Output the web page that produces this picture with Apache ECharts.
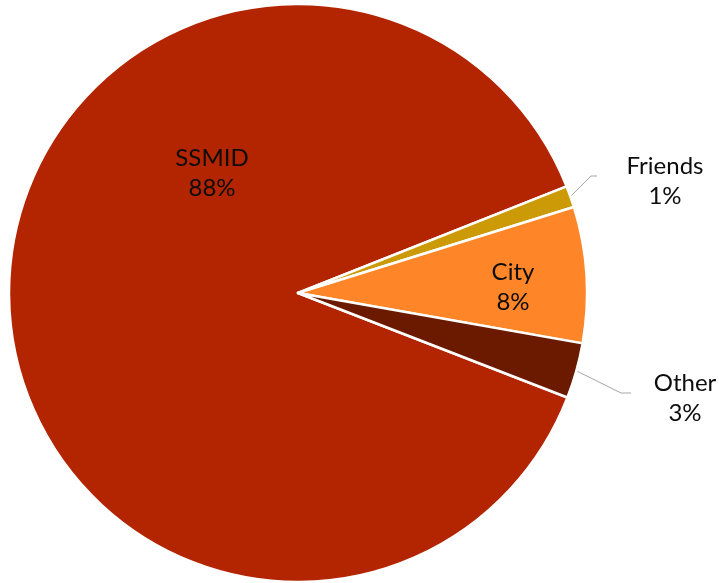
<!DOCTYPE html>
<html>
<head>
<meta charset="utf-8">
<script src="https://cdn.jsdelivr.net/npm/echarts@6/dist/echarts.min.js"></script>
<style>
  html, body { margin: 0; padding: 0; background: #fff; }
  #chart { width: 719px; height: 583px; }
</style>
</head>
<body>
<div id="chart"></div>
<script>
// slice data, clockwise from the lower edge of the big slice
const categories = ['SSMID', 'Friends', 'City', 'Other']
const shares = [88.1, 1.2, 7.6, 3.1]
const sliceColors = ['#B32400', '#CC9A06', '#FF8628', '#6B1A00']

const chart = echarts.init(document.getElementById('chart'))

const total = shares.reduce((a, b) => a + b, 0)
const pieData = categories.map((name, i) => ({
  name: name,
  value: shares[i],
  itemStyle: { color: sliceColors[i] },
  label: { position: (name === 'SSMID' || name === 'City') ? 'inside' : 'outside' },
}))

// where each label block sits (centre), matching the original layout
const labelSpots = {
  SSMID: { x: 212, y: 173 },
  City: { x: 513, y: 287 },
  Friends: { x: 665, y: 181, lineDx: 68, bend: 6 },
  Other: { x: 685, y: 398, lineDx: 54, bend: 10 },
}

const option = {
  backgroundColor: '#fff',
  animation: false,
  series: [
    {
      type: 'pie',
      center: [298, 293],
      radius: 289,
      startAngle: -21.2,
      clockwise: true,
      avoidLabelOverlap: false,
      data: pieData,
      itemStyle: { borderColor: '#fff', borderWidth: 2.5 },
      label: {
        color: '#0d0d0d',
        fontFamily: 'Lato',
        fontSize: 24,
        lineHeight: 30,
        formatter: p => p.name + '\n' + Math.round(p.value / total * 100) + '%',
      },
      labelLine: {
        show: true,
        length: 25,
        length2: 6,
        lineStyle: { color: '#a6a6a6', width: 1 },
      },
      labelLayout: function (p) {
        const s = labelSpots[p.text.split('\n')[0]]
        if (!s) return {}
        const out = { x: s.x, y: s.y, align: 'center', verticalAlign: 'middle' }
        if (s.lineDx && p.labelLinePoints) {
          const start = p.labelLinePoints[0]
          const ly = s.y - 5
          out.labelLinePoints = [start, [s.x - s.lineDx - s.bend, ly], [s.x - s.lineDx, ly]]
        }
        return out
      },
      emphasis: { disabled: true },
    },
  ],
}
chart.setOption(option)
</script>
</body>
</html>
